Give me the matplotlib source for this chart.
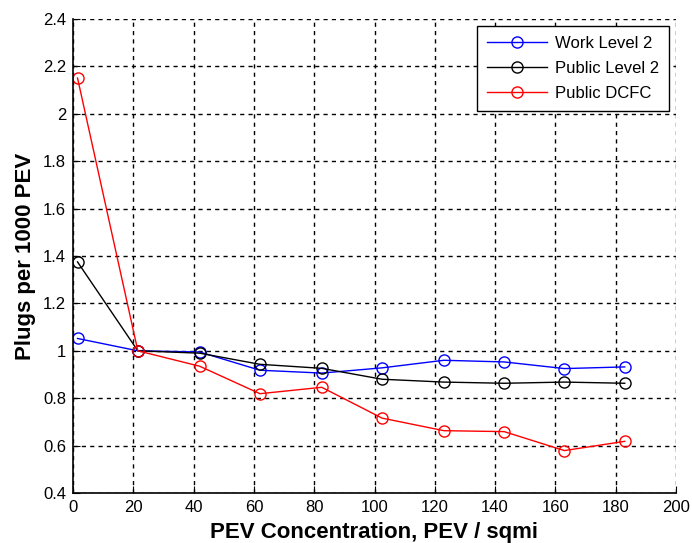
import matplotlib
matplotlib.use("Agg")
import matplotlib.pyplot as plt

x = [1.5, 21.5, 42, 62, 82.5, 102.5, 123, 143, 163, 183]
work_l2 = [1.052, 1.0, 0.995, 0.918, 0.906, 0.928, 0.960, 0.953, 0.925, 0.932]
public_l2 = [1.375, 1.0, 0.99, 0.943, 0.926, 0.880, 0.868, 0.863, 0.868, 0.863]
public_dcfc = [2.151, 1.0, 0.935, 0.819, 0.846, 0.716, 0.663, 0.659, 0.579, 0.618]
series_names = ["Work Level 2", "Public Level 2", "Public DCFC"]
series_colors = ["#0000ff", "#000000", "#ff0000"]
xticks = list(range(0, 201, 20))
yticks = [0.4, 0.6, 0.8, 1.0, 1.2, 1.4, 1.6, 1.8, 2.0, 2.2, 2.4]
ytick_labels = ["0.4", "0.6", "0.8", "1", "1.2", "1.4", "1.6", "1.8", "2", "2.2", "2.4"]

plt.rcParams['font.family'] = ['Liberation Sans', 'DejaVu Sans']

fig = plt.figure(figsize=(6.92, 5.43), dpi=100)
ax = fig.add_axes([73/692, 1 - 493/543, (676-73)/692, (493-19)/543])

for ys, name, c in zip([work_l2, public_l2, public_dcfc], series_names, series_colors):
    ax.plot(x, ys, color=c, lw=1.0, marker='o', markersize=8,
            markerfacecolor='none', markeredgecolor=c, markeredgewidth=1.0,
            label=name)

ax.set_xlim(0, 200)
ax.set_ylim(0.4, 2.4)
ax.set_xticks(xticks)
ax.set_yticks(yticks)
ax.set_yticklabels(ytick_labels)
ax.grid(True, color='black', linestyle=(0, (3, 3)), linewidth=1.0)
ax.set_axisbelow(True)
for s in ['top', 'right']:
    ax.spines[s].set_visible(False)
for s in ['left', 'bottom']:
    ax.spines[s].set_linewidth(1.2)
ax.tick_params(direction='in', length=5, labelsize=12, colors='black', pad=5)

ax.set_xlabel("PEV Concentration, PEV / sqmi", fontsize=16, fontweight='bold', labelpad=5)
ax.set_ylabel("Plugs per 1000 PEV", fontsize=16, fontweight='bold', labelpad=5)

leg = ax.legend(loc='upper right', fontsize=12, fancybox=False, framealpha=1,
                edgecolor='black', borderaxespad=0.4, handlelength=3.6,
                labelspacing=0.6, handletextpad=0.5, borderpad=0.6)
leg.get_frame().set_linewidth(1.0)

fig.savefig("out.png", dpi=100)
